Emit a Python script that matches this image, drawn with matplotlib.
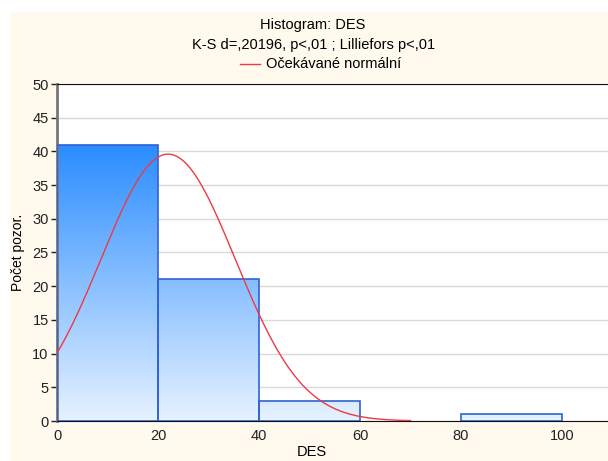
import numpy as np
import matplotlib.pyplot as plt
from matplotlib.colors import LinearSegmentedColormap
from matplotlib.patches import Rectangle

plt.rcParams['font.family'] = ['Liberation Sans', 'DejaVu Sans']

# histogram bins and counts
bin_left = [0, 20, 40, 60, 80]
bin_width = 20
counts = [41, 21, 3, 0, 1]

# expected normal parameters
norm_mean = 22.0
norm_sd = 13.3
curve_end = 70

cream = '#fff9ee'
fig = plt.figure(figsize=(6.08, 4.61), dpi=100, facecolor=cream)
# white margin at top and left
fig.patches.append(Rectangle((0, 1 - 11 / 461), 1, 11 / 461, transform=fig.transFigure,
                             color='white', zorder=-1))
fig.patches.append(Rectangle((0, 0), 9 / 608, 1, transform=fig.transFigure,
                             color='white', zorder=-1))

ax = fig.add_axes([57 / 608, 1 - 421 / 461, 1 - 57 / 608, (421 - 84) / 461])
ax.set_facecolor('white')
ax.set_xlim(0, (608 - 57) / 5.05)
ax.set_ylim(0, 50)

cmap = LinearSegmentedColormap.from_list('bl', ['#e6f2ff', '#2a8cff'])
grad = np.linspace(0, 1, 256).reshape(-1, 1)
top = max(counts)
for x0, c in zip(bin_left, counts):
    if c == 0:
        continue
    rect = Rectangle((x0, 0), bin_width, c, facecolor='none', edgecolor='#2f62d4',
                     linewidth=1.2, zorder=3)
    ax.add_patch(rect)
    im = ax.imshow(grad, cmap=cmap, origin='lower', aspect='auto',
                   extent=(0, 120, 0, top), zorder=2, interpolation='bilinear')
    im.set_clip_path(rect)

xs = np.linspace(0, curve_end, 300)
n = sum(counts)
ys = n * bin_width / (norm_sd * np.sqrt(2 * np.pi)) * np.exp(-(xs - norm_mean) ** 2 / (2 * norm_sd ** 2))
ax.plot(xs, ys, color='#ec3a44', linewidth=1.0, zorder=4)

ax.set_yticks(range(0, 51, 5))
ax.set_xticks(range(0, 101, 20))
ax.grid(axis='y', color='#d9d9d9', linewidth=1.0, zorder=0)
ax.set_axisbelow(True)
ax.tick_params(labelsize=10.5, colors='#222222', length=4, width=1)
ax.tick_params(axis='y', pad=2)
ax.tick_params(axis='x', length=0, pad=6)
for s in ['top', 'bottom']:
    ax.spines[s].set_color('#111111')
ax.spines['left'].set_color('#777777')
ax.spines['left'].set_linewidth(2)
ax.spines['right'].set_visible(False)

ax.set_ylabel('Počet pozor.', fontsize=10)
ax.yaxis.set_label_coords((25 - 57) / 551, 0.5)
fig.text(0.513, 1 - 452 / 461, 'DES', ha='center', va='center', fontsize=10.5)

fig.text(0.515, 1 - 25 / 461, 'Histogram: DES', ha='center', va='center', fontsize=10.5)
fig.text(0.515, 1 - 45 / 461, 'K-S d=,20196, p<,01 ; Lilliefors p<,01', ha='center',
         va='center', fontsize=10.5)
fig.lines.append(plt.Line2D([240 / 608, 260 / 608], [1 - 64 / 461, 1 - 64 / 461],
                            transform=fig.transFigure, color='#ec3a44', linewidth=1))
fig.text(266 / 608, 1 - 64 / 461, 'Očekávané normální', ha='left', va='center', fontsize=10.5)

fig.savefig('out.png', dpi=100, facecolor=cream)
